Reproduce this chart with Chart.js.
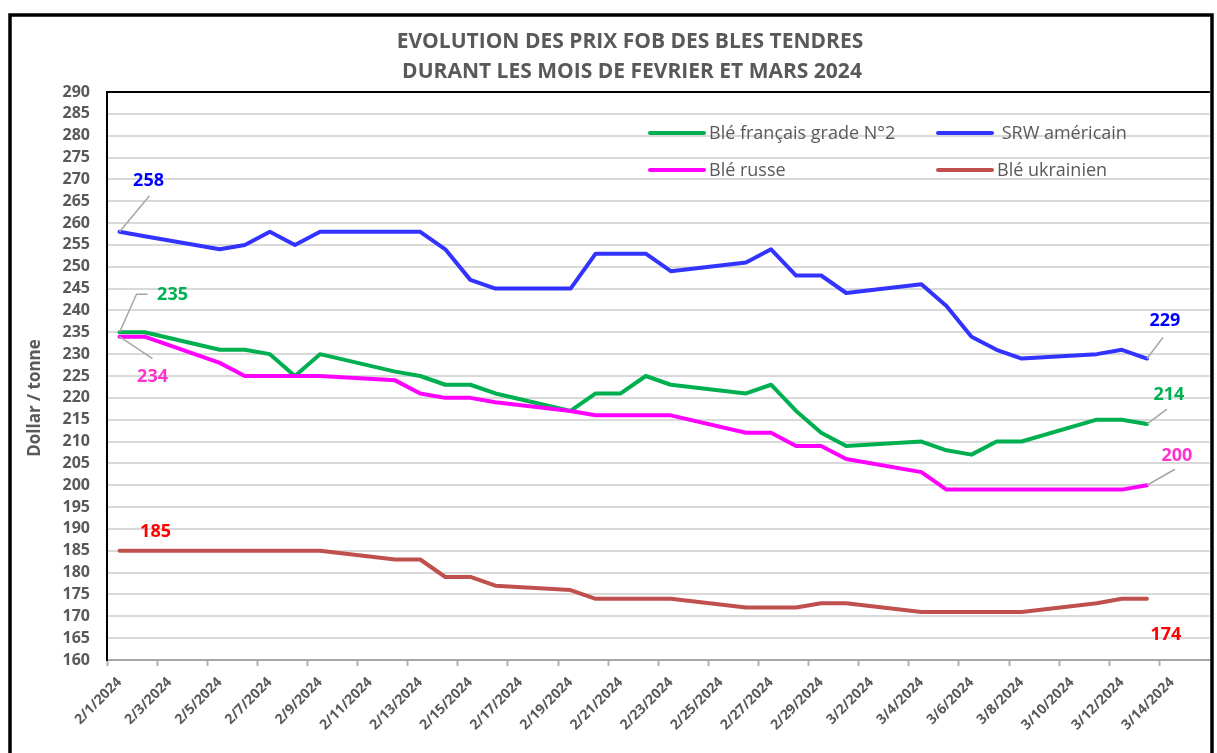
<!DOCTYPE html>
<html>
<head>
<meta charset="utf-8">
<script src="https://cdn.jsdelivr.net/npm/chart.js@4.4.1/dist/chart.umd.min.js"></script>
<style>
  html, body { margin: 0; padding: 0; background: #fff; }
  #wrap { width: 1217px; height: 753px; position: relative; }
</style>
</head>
<body>
<div id="wrap"><canvas id="prixChart"></canvas></div>
<script>
// every calendar day on the date axis
const axisDays = [
  '2/1/2024', '2/2/2024', '2/3/2024', '2/4/2024', '2/5/2024', '2/6/2024', '2/7/2024', '2/8/2024',
  '2/9/2024', '2/10/2024', '2/11/2024', '2/12/2024', '2/13/2024', '2/14/2024', '2/15/2024', '2/16/2024',
  '2/17/2024', '2/18/2024', '2/19/2024', '2/20/2024', '2/21/2024', '2/22/2024', '2/23/2024', '2/24/2024',
  '2/25/2024', '2/26/2024', '2/27/2024', '2/28/2024', '2/29/2024', '3/1/2024', '3/2/2024', '3/3/2024',
  '3/4/2024', '3/5/2024', '3/6/2024', '3/7/2024', '3/8/2024', '3/9/2024', '3/10/2024', '3/11/2024',
  '3/12/2024', '3/13/2024', '3/14/2024', '3/15/2024'
];

// quotation days
const tradingDays = [
  '2/1/2024', '2/2/2024', '2/5/2024', '2/6/2024', '2/7/2024', '2/8/2024', '2/9/2024',
  '2/12/2024', '2/13/2024', '2/14/2024', '2/15/2024', '2/16/2024',
  '2/19/2024', '2/20/2024', '2/21/2024', '2/22/2024', '2/23/2024',
  '2/26/2024', '2/27/2024', '2/28/2024', '2/29/2024', '3/1/2024',
  '3/4/2024', '3/5/2024', '3/6/2024', '3/7/2024', '3/8/2024',
  '3/11/2024', '3/12/2024', '3/13/2024'
];

const bleFrancais = [235, 235, 231, 231, 230, 225, 230, 226, 225, 223, 223, 221, 217, 221, 221, 225, 223,
  221, 223, 217, 212, 209, 210, 208, 207, 210, 210, 215, 215, 214];
const srwAmericain = [258, 257, 254, 255, 258, 255, 258, 258, 258, 254, 247, 245, 245, 253, 253, 253, 249,
  251, 254, 248, 248, 244, 246, 241, 234, 231, 229, 230, 231, 229];
const bleRusse = [234, 234, 228, 225, 225, 225, 225, 224, 221, 220, 220, 219, 217, 216, 216, 216, 216,
  212, 212, 209, 209, 206, 203, 199, 199, 199, 199, 199, 199, 200];
const bleUkrainien = [185, 185, 185, 185, 185, 185, 185, 183, 183, 179, 179, 177, 176, 174, 174, 174, 174,
  172, 172, 172, 173, 173, 171, 171, 171, 171, 171, 173, 174, 174];

const yMin = 160;
const yMax = 290;
const yStep = 5;

const FONT = "'Open Sans', 'Noto Sans', sans-serif";
const GREY_TEXT = '#595959';

const seriesDefs = [
  { label: 'Blé français grade N°2', values: bleFrancais, color: '#00b050', order: 4 },
  { label: ' SRW américain', values: srwAmericain, color: '#3333ff', order: 3 },
  { label: 'Blé russe', values: bleRusse, color: '#ff00ff', order: 2 },
  { label: 'Blé ukrainien', values: bleUkrainien, color: '#c0504d', order: 1 }
];

// value tags: series index, first/last point, text offset and leader line (relative to the point)
const LAST = tradingDays.length - 1;
const valueTags = [
  { s: 1, p: 0, color: '#0000ff', dx: 29, dy: -51, leader: [[0, 0], [30, -36]] },
  { s: 0, p: 0, color: '#00b050', dx: 53, dy: -37, leader: [[0, 0], [17, -38], [28, -38]] },
  { s: 2, p: 0, color: '#ff33cc', dx: 33, dy: 40, leader: [[0, 0], [33, 22]] },
  { s: 3, p: 0, color: '#ff0000', dx: 36, dy: -19, leader: null },
  { s: 1, p: LAST, color: '#0000ff', dx: 18, dy: -38, leader: [[0, 0], [16, -21]] },
  { s: 0, p: LAST, color: '#00b050', dx: 22, dy: -29, leader: [[0, 0], [20, -15]] },
  { s: 2, p: LAST, color: '#ff33cc', dx: 30, dy: -29, leader: [[0, 0], [28, -16]] },
  { s: 3, p: LAST, color: '#ff0000', dx: 19, dy: 36, leader: null }
];

const legendSpots = [
  { x: 650, y: 133 }, { x: 938, y: 133 },
  { x: 650, y: 170 }, { x: 938, y: 170 }
];

const decorPlugin = {
  id: 'decor',
  beforeDraw(chart) {
    const c = chart.ctx;
    c.save();
    c.fillStyle = '#fff';
    c.fillRect(0, 0, chart.width, chart.height);
    c.restore();
  },
  afterDraw(chart) {
    const c = chart.ctx;
    const area = chart.chartArea;
    c.save();

    // plot area top edge
    c.strokeStyle = '#000';
    c.lineWidth = 2;
    c.beginPath();
    c.moveTo(area.left - 1, area.top);
    c.lineTo(area.right, area.top);
    c.stroke();

    // title
    c.fillStyle = GREY_TEXT;
    c.textAlign = 'center';
    c.textBaseline = 'middle';
    c.font = 'bold 21px ' + FONT;
    c.fillText('EVOLUTION DES PRIX FOB DES BLES TENDRES', 630, 42);
    c.fillText('DURANT LES MOIS DE FEVRIER ET MARS 2024', 632, 72);

    // y axis title
    c.save();
    c.translate(35, 398);
    c.rotate(-Math.PI / 2);
    c.font = 'bold 17px ' + FONT;
    c.fillText('Dollar / tonne', 0, 0);
    c.restore();

    // legend
    c.textAlign = 'left';
    c.font = '18px ' + FONT;
    seriesDefs.forEach((sd, i) => {
      const spot = legendSpots[i];
      c.strokeStyle = sd.color;
      c.lineWidth = 4;
      c.lineCap = 'round';
      c.beginPath();
      c.moveTo(spot.x, spot.y);
      c.lineTo(spot.x + 54, spot.y);
      c.stroke();
      c.fillStyle = GREY_TEXT;
      c.fillText(sd.label, spot.x + 59, spot.y + 1);
    });

    // value tags
    c.font = 'bold 18px ' + FONT;
    c.textAlign = 'center';
    valueTags.forEach(t => {
      const pt = chart.getDatasetMeta(t.s).data[t.p];
      const val = seriesDefs[t.s].values[t.p];
      if (t.leader) {
        c.strokeStyle = '#a6a6a6';
        c.lineWidth = 1.5;
        c.lineCap = 'butt';
        c.beginPath();
        t.leader.forEach(([lx, ly], k) => {
          if (k === 0) c.moveTo(pt.x + lx, pt.y + ly);
          else c.lineTo(pt.x + lx, pt.y + ly);
        });
        c.stroke();
      }
      c.fillStyle = t.color;
      c.fillText(String(val), pt.x + t.dx, pt.y + t.dy);
    });

    // outer frame
    c.strokeStyle = '#000';
    c.lineWidth = 3.5;
    c.strokeRect(10, 15, 1202, 760);
    c.restore();
  }
};

const datasets = seriesDefs.map(sd => ({
  label: sd.label,
  data: tradingDays.map((d, i) => ({ x: d, y: sd.values[i] })),
  borderColor: sd.color,
  backgroundColor: sd.color,
  borderWidth: 4,
  pointRadius: 0,
  tension: 0,
  borderJoinStyle: 'round',
  borderCapStyle: 'round',
  order: sd.order
}));

const config = {
  type: 'line',
  data: { labels: axisDays, datasets: datasets },
  options: {
    responsive: true,
    maintainAspectRatio: false,
    animation: false,
    layout: { padding: { top: 92, right: 7, bottom: 0, left: 0 } },
    plugins: {
      legend: { display: false },
      title: { display: false },
      tooltip: { enabled: false }
    },
    scales: {
      x: {
        type: 'category',
        offset: true,
        grid: {
          drawOnChartArea: false,
          drawTicks: true,
          tickLength: 6,
          tickWidth: 2,
          offset: true,
          tickColor: c => (c.index % 2 === 0 ? '#b0b0b0' : 'rgba(0,0,0,0)')
        },
        border: { color: '#a6a6a6', width: 2 },
        ticks: {
          autoSkip: false,
          minRotation: 45,
          maxRotation: 45,
          padding: 8,
          color: GREY_TEXT,
          font: { family: FONT, size: 14, weight: 'bold' },
          callback: function (v, i) { return i % 2 === 0 ? this.getLabelForValue(v) : ''; }
        },
        afterFit: s => { s.height = 93; }
      },
      y: {
        min: yMin,
        max: yMax,
        ticks: {
          stepSize: yStep,
          autoSkip: false,
          padding: 17,
          color: GREY_TEXT,
          font: { family: FONT, size: 16, weight: 'bold' }
        },
        grid: {
          drawTicks: false,
          lineWidth: 2,
          color: c => (c.tick && c.tick.value === yMax ? '#000' : '#d9d9d9')
        },
        border: { color: '#000', width: 2 },
        afterFit: s => { s.width = 107; }
      }
    }
  },
  plugins: [decorPlugin]
};

new Chart(document.getElementById('prixChart').getContext('2d'), config);
</script>
</body>
</html>
